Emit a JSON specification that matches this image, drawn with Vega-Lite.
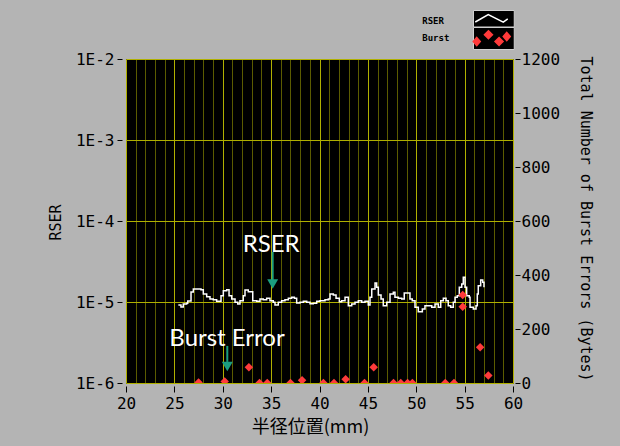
{
  "$schema": "https://vega.github.io/schema/vega-lite/v6.json",
  "width": 387,
  "height": 324,
  "autosize": {"type": "none"},
  "padding": {"left": 126, "top": 59, "right": 107, "bottom": 63},
  "background": "#b4b4b4",
  "config": {
    "view": {"fill": "#000000", "stroke": "#000000", "strokeWidth": 1},
    "axis": {
      "domain": false,
      "labelFont": "DejaVu Sans Mono",
      "labelFontSize": 16,
      "labelColor": "#000000",
      "titleFont": "DejaVu Sans Mono",
      "titleFontSize": 15,
      "titleFontWeight": "normal",
      "titleColor": "#000000",
      "tickColor": "#000000",
      "tickWidth": 1
    }
  },
  "datasets": {
    "rser": [
      {"mm": 25.41, "rser": 9.18e-6, "series": "RSER"},
      {"mm": 25.68, "rser": 8.68e-6, "series": "RSER"},
      {"mm": 25.92, "rser": 9.45e-6, "series": "RSER"},
      {"mm": 26.27, "rser": 9.64e-6, "series": "RSER"},
      {"mm": 26.38, "rser": 1.029e-5, "series": "RSER"},
      {"mm": 26.72, "rser": 1.329e-5, "series": "RSER"},
      {"mm": 26.96, "rser": 1.447e-5, "series": "RSER"},
      {"mm": 27.47, "rser": 1.447e-5, "series": "RSER"},
      {"mm": 27.75, "rser": 1.419e-5, "series": "RSER"},
      {"mm": 27.99, "rser": 1.255e-5, "series": "RSER"},
      {"mm": 28.34, "rser": 1.163e-5, "series": "RSER"},
      {"mm": 28.68, "rser": 1.089e-5, "series": "RSER"},
      {"mm": 29.02, "rser": 1.068e-5, "series": "RSER"},
      {"mm": 29.37, "rser": 1.02e-5, "series": "RSER"},
      {"mm": 29.82, "rser": 1.196e-5, "series": "RSER"},
      {"mm": 30.06, "rser": 1.379e-5, "series": "RSER"},
      {"mm": 30.41, "rser": 1.419e-5, "series": "RSER"},
      {"mm": 30.65, "rser": 1.196e-5, "series": "RSER"},
      {"mm": 30.93, "rser": 1.089e-5, "series": "RSER"},
      {"mm": 31.27, "rser": 9.91e-6, "series": "RSER"},
      {"mm": 31.55, "rser": 9.45e-6, "series": "RSER"},
      {"mm": 31.78, "rser": 1.038e-5, "series": "RSER"},
      {"mm": 32.12, "rser": 1.196e-5, "series": "RSER"},
      {"mm": 32.30, "rser": 1.406e-5, "series": "RSER"},
      {"mm": 32.64, "rser": 1.34e-5, "series": "RSER"},
      {"mm": 32.82, "rser": 1.34e-5, "series": "RSER"},
      {"mm": 33.10, "rser": 1.038e-5, "series": "RSER"},
      {"mm": 33.51, "rser": 1.02e-5, "series": "RSER"},
      {"mm": 33.85, "rser": 1.089e-5, "series": "RSER"},
      {"mm": 34.19, "rser": 1.068e-5, "series": "RSER"},
      {"mm": 34.54, "rser": 1.111e-5, "series": "RSER"},
      {"mm": 34.88, "rser": 1.038e-5, "series": "RSER"},
      {"mm": 35.22, "rser": 9.91e-6, "series": "RSER"},
      {"mm": 35.40, "rser": 9.18e-6, "series": "RSER"},
      {"mm": 35.74, "rser": 9.91e-6, "series": "RSER"},
      {"mm": 36.09, "rser": 1.038e-5, "series": "RSER"},
      {"mm": 36.43, "rser": 1.068e-5, "series": "RSER"},
      {"mm": 36.78, "rser": 1.111e-5, "series": "RSER"},
      {"mm": 37.13, "rser": 1.143e-5, "series": "RSER"},
      {"mm": 37.40, "rser": 1.111e-5, "series": "RSER"},
      {"mm": 37.64, "rser": 9.72e-6, "series": "RSER"},
      {"mm": 37.98, "rser": 9.91e-6, "series": "RSER"},
      {"mm": 38.33, "rser": 1.02e-5, "series": "RSER"},
      {"mm": 38.68, "rser": 9.91e-6, "series": "RSER"},
      {"mm": 39.02, "rser": 9.53e-6, "series": "RSER"},
      {"mm": 39.36, "rser": 9.64e-6, "series": "RSER"},
      {"mm": 39.71, "rser": 1.02e-5, "series": "RSER"},
      {"mm": 40.05, "rser": 1.038e-5, "series": "RSER"},
      {"mm": 40.57, "rser": 1.068e-5, "series": "RSER"},
      {"mm": 40.91, "rser": 1.089e-5, "series": "RSER"},
      {"mm": 41.09, "rser": 1.255e-5, "series": "RSER"},
      {"mm": 41.43, "rser": 1.22e-5, "series": "RSER"},
      {"mm": 41.71, "rser": 1.111e-5, "series": "RSER"},
      {"mm": 42.05, "rser": 1.009e-5, "series": "RSER"},
      {"mm": 42.29, "rser": 1.038e-5, "series": "RSER"},
      {"mm": 42.64, "rser": 1.143e-5, "series": "RSER"},
      {"mm": 42.98, "rser": 9.0e-6, "series": "RSER"},
      {"mm": 43.33, "rser": 9.45e-6, "series": "RSER"},
      {"mm": 43.67, "rser": 9.91e-6, "series": "RSER"},
      {"mm": 44.01, "rser": 1.038e-5, "series": "RSER"},
      {"mm": 44.36, "rser": 9.91e-6, "series": "RSER"},
      {"mm": 44.70, "rser": 1.02e-5, "series": "RSER"},
      {"mm": 45.04, "rser": 9.18e-6, "series": "RSER"},
      {"mm": 45.22, "rser": 1.143e-5, "series": "RSER"},
      {"mm": 45.40, "rser": 1.447e-5, "series": "RSER"},
      {"mm": 45.74, "rser": 1.717e-5, "series": "RSER"},
      {"mm": 45.91, "rser": 1.519e-5, "series": "RSER"},
      {"mm": 46.08, "rser": 1.22e-5, "series": "RSER"},
      {"mm": 46.36, "rser": 1.089e-5, "series": "RSER"},
      {"mm": 46.59, "rser": 9.0e-6, "series": "RSER"},
      {"mm": 46.95, "rser": 9.91e-6, "series": "RSER"},
      {"mm": 47.29, "rser": 1.255e-5, "series": "RSER"},
      {"mm": 47.63, "rser": 1.318e-5, "series": "RSER"},
      {"mm": 47.80, "rser": 1.143e-5, "series": "RSER"},
      {"mm": 48.15, "rser": 1.111e-5, "series": "RSER"},
      {"mm": 48.50, "rser": 1.089e-5, "series": "RSER"},
      {"mm": 48.76, "rser": 1.291e-5, "series": "RSER"},
      {"mm": 49.12, "rser": 1.291e-5, "series": "RSER"},
      {"mm": 49.35, "rser": 1.089e-5, "series": "RSER"},
      {"mm": 49.59, "rser": 1.038e-5, "series": "RSER"},
      {"mm": 49.87, "rser": 8.6e-6, "series": "RSER"},
      {"mm": 50.21, "rser": 7.59e-6, "series": "RSER"},
      {"mm": 50.63, "rser": 8.2e-6, "series": "RSER"},
      {"mm": 50.90, "rser": 9.0e-6, "series": "RSER"},
      {"mm": 51.25, "rser": 9.0e-6, "series": "RSER"},
      {"mm": 51.60, "rser": 8.6e-6, "series": "RSER"},
      {"mm": 51.94, "rser": 9.45e-6, "series": "RSER"},
      {"mm": 52.28, "rser": 8.6e-6, "series": "RSER"},
      {"mm": 52.53, "rser": 1.038e-5, "series": "RSER"},
      {"mm": 52.80, "rser": 1.111e-5, "series": "RSER"},
      {"mm": 53.08, "rser": 1.038e-5, "series": "RSER"},
      {"mm": 53.31, "rser": 9.0e-6, "series": "RSER"},
      {"mm": 53.56, "rser": 8.6e-6, "series": "RSER"},
      {"mm": 53.83, "rser": 9.91e-6, "series": "RSER"},
      {"mm": 54.01, "rser": 1.143e-5, "series": "RSER"},
      {"mm": 54.24, "rser": 1.196e-5, "series": "RSER"},
      {"mm": 54.45, "rser": 1.519e-5, "series": "RSER"},
      {"mm": 54.70, "rser": 1.668e-5, "series": "RSER"},
      {"mm": 54.86, "rser": 2.018e-5, "series": "RSER"},
      {"mm": 55.04, "rser": 1.519e-5, "series": "RSER"},
      {"mm": 55.21, "rser": 1.196e-5, "series": "RSER"},
      {"mm": 55.48, "rser": 1.143e-5, "series": "RSER"},
      {"mm": 55.56, "rser": 8.6e-6, "series": "RSER"},
      {"mm": 55.90, "rser": 8.2e-6, "series": "RSER"},
      {"mm": 56.18, "rser": 9.0e-6, "series": "RSER"},
      {"mm": 56.31, "rser": 1.255e-5, "series": "RSER"},
      {"mm": 56.41, "rser": 1.589e-5, "series": "RSER"},
      {"mm": 56.66, "rser": 1.869e-5, "series": "RSER"},
      {"mm": 56.87, "rser": 1.751e-5, "series": "RSER"},
      {"mm": 57.00, "rser": 1.519e-5, "series": "RSER"}
    ],
    "burst": [
      {"mm": 27.5, "count": 2, "series": "Burst"},
      {"mm": 30.2, "count": 6, "series": "Burst"},
      {"mm": 32.7, "count": 58, "series": "Burst"},
      {"mm": 33.8, "count": 0, "series": "Burst"},
      {"mm": 34.6, "count": 0, "series": "Burst"},
      {"mm": 37.0, "count": 0, "series": "Burst"},
      {"mm": 38.2, "count": 10, "series": "Burst"},
      {"mm": 40.4, "count": 0, "series": "Burst"},
      {"mm": 41.5, "count": 0, "series": "Burst"},
      {"mm": 42.7, "count": 14, "series": "Burst"},
      {"mm": 44.65, "count": 0, "series": "Burst"},
      {"mm": 45.6, "count": 58, "series": "Burst"},
      {"mm": 47.65, "count": 0, "series": "Burst"},
      {"mm": 48.4, "count": 0, "series": "Burst"},
      {"mm": 49.1, "count": 0, "series": "Burst"},
      {"mm": 49.6, "count": 0, "series": "Burst"},
      {"mm": 53.0, "count": 0, "series": "Burst"},
      {"mm": 53.9, "count": 0, "series": "Burst"},
      {"mm": 54.8, "count": 326, "series": "Burst"},
      {"mm": 54.8, "count": 282, "series": "Burst"},
      {"mm": 56.6, "count": 132, "series": "Burst"},
      {"mm": 57.45, "count": 28, "series": "Burst"}
    ],
    "notes": [
      {"label": "RSER", "mm": 35.0, "rser": 5.06e-5},
      {"label": "Burst Error", "mm": 30.44, "rser": 3.49e-6}
    ],
    "arrows": [
      {"mm": 35.16, "top": 4.14e-5, "bottom": 1.87e-5, "head": 1.667e-5},
      {"mm": 30.47, "top": 2.87e-6, "bottom": 1.82e-6, "head": 1.6e-6}
    ]
  },
  "resolve": {"scale": {"y": "independent"}, "axis": {"x": "independent"}},
  "layer": [
    {
      "layer": [
        {
          "data": {"name": "rser"},
          "mark": {"type": "line", "strokeWidth": 1.5, "clip": true, "interpolate": "step-after"},
          "encoding": {
            "x": {
              "field": "mm",
              "type": "quantitative",
              "scale": {"domain": [20, 60], "nice": false, "zero": false},
              "axis": {
                "title": "半径位置(mm)",
                "values": [20, 25, 30, 35, 40, 45, 50, 55, 60],
                "labelOverlap": false,
                "labelFlush": false,
                "grid": true,
                "gridColor": "#b0b000",
                "tickSize": 6,
                "offset": 3,
                "labelPadding": 3,
                "titleFont": "Noto Sans CJK JP",
                "titleFontSize": 18,
                "titleX": 184,
                "titleY": 41,
                "titleBaseline": "middle",
                "titleAlign": "center"
              }
            },
            "y": {
              "field": "rser",
              "type": "quantitative",
              "scale": {"type": "log", "domain": [1e-6, 1e-2], "nice": false},
              "axis": {
                "title": "RSER",
                "values": [1e-6, 1e-5, 1e-4, 1e-3, 1e-2],
                "labelExpr": "'1E-' + round(-log(datum.value) / LN10)",
                "labelFlush": false,
                "labelOverlap": false,
                "grid": true,
                "gridColor": "#b0b000",
                "tickSize": 5,
                "offset": 4,
                "labelPadding": 3,
                "titleX": -67,
                "titleY": 163,
                "titleAngle": -90,
                "titleAlign": "center",
                "titleBaseline": "middle"
              }
            },
            "color": {
              "field": "series",
              "type": "nominal",
              "scale": {"domain": ["RSER", "Burst"], "range": ["#ffffff", "#ff3b3b"]},
              "legend": {
                "orient": "none",
                "legendX": 347,
                "legendY": -49,
                "title": null,
                "padding": 0,
                "rowPadding": 0,
                "labelFont": "DejaVu Sans Mono",
                "labelFontSize": 9,
                "labelFontWeight": "bold",
                "labelColor": "#000000",
                "symbolSize": 400,
                "labelOffset": -80.5,
                "symbolOffset": 7.75,
                "encode": {
                  "symbols": {
                    "update": {
                      "shape": {"signal": "datum.value === 'RSER' ? 'M-1.65,0.1L-0.35,-0.65L1.15,0.12L1.6,-0.22' : 'M-1.5,-0.05L-1.15,0.35L-1.5,0.75L-1.85,0.35Z M-0.33,-0.72L0.07,-0.32L-0.33,0.08L-0.73,-0.32Z M0.73,-0.05L1.13,0.35L0.73,0.75L0.33,0.35Z M1.5,-0.55L1.85,-0.15L1.5,0.25L1.15,-0.15Z'"},
                      "fill": {"signal": "datum.value === 'RSER' ? 'transparent' : '#ff3b3b'"},
                      "fillOpacity": {"signal": "datum.value === 'RSER' ? 0 : 1"},
                      "stroke": {"signal": "datum.value === 'RSER' ? '#ffffff' : 'transparent'"},
                      "strokeOpacity": {"value": 1},
                      "strokeWidth": {"value": 1.5},
                      "opacity": {"value": 1}
                    }
                  },
                  "entries": {
                    "update": {
                      "fill": {"value": "#000000"},
                      "stroke": {"value": "#d0d0d0"},
                      "width": {"value": 37},
                      "height": {"value": 21}
                    }
                  }
                }
              }
            }
          }
        },
        {
          "data": {"name": "arrows"},
          "mark": {"type": "rule", "color": "#1b9e7f", "strokeWidth": 2},
          "encoding": {
            "x": {"field": "mm", "type": "quantitative", "title": "半径位置(mm)"},
            "y": {"field": "top", "type": "quantitative", "title": "RSER"},
            "y2": {"field": "bottom"}
          }
        },
        {
          "data": {"name": "arrows"},
          "mark": {"type": "point", "shape": "triangle-down", "filled": true, "size": 121, "color": "#1b9e7f", "opacity": 1},
          "encoding": {
            "x": {"field": "mm", "type": "quantitative", "title": "半径位置(mm)"},
            "y": {"field": "head", "type": "quantitative", "title": "RSER"}
          }
        },
        {
          "data": {"name": "notes"},
          "mark": {"type": "text", "font": "Lato", "fontSize": 24, "color": "#ffffff", "align": "center", "baseline": "middle"},
          "encoding": {
            "x": {"field": "mm", "type": "quantitative", "title": "半径位置(mm)"},
            "y": {"field": "rser", "type": "quantitative", "title": "RSER"},
            "text": {"field": "label"}
          }
        }
      ]
    },
    {
      "data": {"name": "burst"},
      "mark": {"type": "point", "shape": "diamond", "filled": true, "size": 72, "opacity": 1, "clip": true},
      "encoding": {
        "x": {
          "field": "mm",
          "type": "quantitative",
          "axis": {
            "orient": "top",
            "title": null,
            "values": [21,22,23,24,26,27,28,29,31,32,33,34,36,37,38,39,41,42,43,44,46,47,48,49,51,52,53,54,56,57,58,59],
            "grid": true,
            "gridColor": "#5c5c00",
            "labels": false,
            "ticks": false,
            "domain": false
          }
        },
        "y": {
          "field": "count",
          "type": "quantitative",
          "scale": {"domain": [0, 1200], "nice": false},
          "axis": {
            "orient": "right",
            "title": "Total Number of Burst Errors (Bytes)",
            "values": [0, 200, 400, 600, 800, 1000, 1200],
            "format": "d",
            "grid": false,
            "labelFlush": false,
            "labelOverlap": false,
            "tickSize": 5,
            "offset": 2,
            "labelPadding": 1,
            "titleX": 70,
            "titleY": 159.5,
            "titleAngle": 90,
            "titleAlign": "center",
            "titleBaseline": "middle"
          }
        },
        "color": {"field": "series", "type": "nominal"}
      }
    }
  ]
}
